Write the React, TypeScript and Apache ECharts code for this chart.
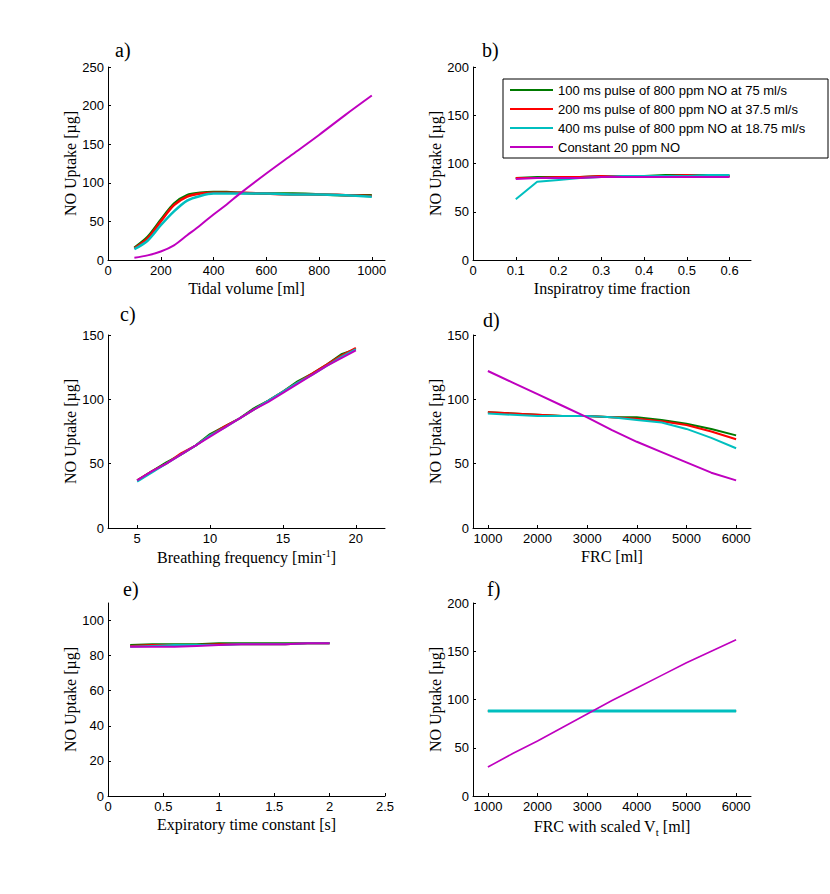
import React, { useEffect, useRef } from "react";
import * as echarts from "echarts";

// ---------- data ----------
const seriesNames = [
  "100 ms pulse of 800 ppm NO at 75 ml/s",
  "200 ms pulse of 800 ppm NO at 37.5 ml/s",
  "400 ms pulse of 800 ppm NO at 18.75 ml/s",
  "Constant 20 ppm NO",
];
const seriesColors = ["#007a00", "#ff0000", "#00bfbf", "#bf00bf"];

// a) tidal volume
const tvX = [100, 150, 200, 250, 300, 350, 400, 450, 500, 600, 700, 800, 900, 1000];
const tvGreen = [16, 30, 52, 73, 84, 87, 88, 88, 87, 86, 86, 85, 84, 84];
const tvRed = [15, 28, 50, 71, 82, 86, 87, 87, 87, 86, 85, 85, 84, 83];
const tvCyan = [14, 25, 45, 63, 77, 83, 86, 86, 86, 86, 85, 85, 84, 82];
const tvMagenta = [3, 6, 11, 19, 32, 45, 59, 72, 86, 112, 137, 162, 188, 213];

// b) inspiratory time fraction
const itfX = [0.1, 0.15, 0.2, 0.25, 0.3, 0.35, 0.4, 0.45, 0.5, 0.55, 0.6];
const itfGreen = [85, 86, 86, 86, 87, 87, 87, 88, 88, 88, 87];
const itfRed = [85, 85, 86, 86, 87, 87, 87, 87, 88, 87, 87];
const itfCyan = [63, 81, 83, 85, 86, 87, 87, 87, 87, 88, 88];
const itfMagenta = [84, 85, 85, 85, 86, 86, 86, 86, 86, 86, 86];

// c) breathing frequency
const bfX = [5, 6, 7, 8, 9, 10, 11, 12, 13, 14, 15, 16, 17, 18, 19, 20];
const bfGreen = [37, 44, 51, 57, 64, 73, 79, 85, 93, 99, 106, 114, 120, 127, 135, 139];
const bfRed = [37, 44, 50, 58, 64, 72, 79, 85, 92, 99, 106, 113, 120, 127, 134, 140];
const bfCyan = [36, 43, 50, 57, 64, 72, 78, 85, 92, 99, 106, 113, 119, 126, 133, 139];
const bfMagenta = [37, 44, 50, 57, 64, 71, 78, 85, 92, 98, 105, 112, 119, 126, 132, 138];

// d) FRC
const frcX = [1000, 1500, 2000, 2500, 3000, 3500, 4000, 4500, 5000, 5500, 6000];
const frcGreen = [90, 89, 88, 87, 87, 86, 86, 84, 81, 77, 72];
const frcRed = [90, 89, 88, 87, 87, 86, 85, 83, 80, 75, 69];
const frcCyan = [89, 88, 87, 87, 87, 86, 84, 82, 77, 70, 62];
const frcMagenta = [122, 113, 104, 95, 86, 76, 67, 59, 51, 43, 37];

// e) expiratory time constant
const etcX = [0.2, 0.4, 0.6, 0.8, 1.0, 1.2, 1.4, 1.6, 1.8, 2.0];
const etcGreen = [86, 86.5, 86.5, 86.5, 87, 87, 87, 87, 87, 87];
const etcRed = [85.5, 86, 86, 86, 86.5, 86.5, 86.5, 86.5, 87, 87];
const etcCyan = [85, 85.5, 86, 86, 86, 86.5, 86.5, 86.5, 87, 87];
const etcMagenta = [85, 85, 85, 85.5, 86, 86.5, 86.5, 86.5, 87, 87];

// f) FRC with scaled Vt
const fvX = [1000, 1500, 2000, 2500, 3000, 3500, 4000, 4500, 5000, 5500, 6000];
const fvGreen = [88, 88, 88, 88, 88, 88, 88, 88, 88, 88, 88];
const fvRed = [88, 88, 88, 88, 88, 88, 88, 88, 88, 88, 88];
const fvCyan = [88, 88, 88, 88, 88, 88, 88, 88, 88, 88, 88];
const fvMagenta = [30, 44, 57, 71, 85, 99, 112, 125, 138, 150, 162];

// tick labels
const tvTicks = [0, 200, 400, 600, 800, 1000];
const itfTicks = [0, 0.1, 0.2, 0.3, 0.4, 0.5, 0.6];
const bfTicks = [5, 10, 15, 20];
const frcTicks = [1000, 2000, 3000, 4000, 5000, 6000];
const etcTicks = [0, 0.5, 1, 1.5, 2, 2.5];
const yTicks250 = [0, 50, 100, 150, 200, 250];
const yTicks200 = [0, 50, 100, 150, 200];
const yTicks150 = [0, 50, 100, 150];
const yTicks110 = [0, 20, 40, 60, 80, 100];

const panelLetters = ["a)", "b)", "c)", "d)", "e)", "f)"];
const xNames = [
  "Tidal volume [ml]",
  "Inspiratroy time fraction",
  "Breathing frequency [min{sup|-1}]",
  "FRC [ml]",
  "Expiratory time constant [s]",
  "FRC with scaled V{sub|t} [ml]",
];
const yName = "NO Uptake [µg]";

const SERIF = "'Liberation Serif', 'Times New Roman', serif";
const SANS = "'Liberation Sans', Arial, sans-serif";

export default function App() {
  const ref = useRef<HTMLDivElement>(null);

  useEffect(() => {
    if (!ref.current) return;
    const chart = echarts.init(ref.current, null, { renderer: "svg" });

    const panels = [
      { x: tvX, ys: [tvGreen, tvRed, tvCyan, tvMagenta], xmin: 0, xmax: 1050, xt: tvTicks, ymax: 250, yt: yTicks250 },
      { x: itfX, ys: [itfGreen, itfRed, itfCyan, itfMagenta], xmin: 0, xmax: 0.65, xt: itfTicks, ymax: 200, yt: yTicks200 },
      { x: bfX, ys: [bfGreen, bfRed, bfCyan, bfMagenta], xmin: 3, xmax: 22, xt: bfTicks, ymax: 150, yt: yTicks150 },
      { x: frcX, ys: [frcGreen, frcRed, frcCyan, frcMagenta], xmin: 700, xmax: 6300, xt: frcTicks, ymax: 150, yt: yTicks150 },
      { x: etcX, ys: [etcGreen, etcRed, etcCyan, etcMagenta], xmin: 0, xmax: 2.5, xt: etcTicks, ymax: 110, yt: yTicks110 },
      { x: fvX, ys: [fvGreen, fvRed, fvCyan, fvMagenta], xmin: 700, xmax: 6300, xt: frcTicks, ymax: 200, yt: yTicks200 },
    ];

    const lefts = [108, 473];
    const widths = [277, 278];
    const tops = [67, 335, 603];
    const H = 193;

    const grids: any[] = [];
    const xAxes: any[] = [];
    const yAxes: any[] = [];
    const series: any[] = [];
    const graphics: any[] = [];

    const letterPos = [
      [115, 50], [482, 50], [120, 314], [483, 320], [123, 589], [487, 589],
    ];

    const rich = {
      sup: { fontFamily: SERIF, fontSize: 10, verticalAlign: "top", padding: [0, 0, 8, 0], color: "#000" },
      sub: { fontFamily: SERIF, fontSize: 11, padding: [10, 0, 0, 0], color: "#000" },
    };
    const fmt = (v: number) => String(v);

    panels.forEach((p, i) => {
      const col = i % 2;
      const row = Math.floor(i / 2);
      grids.push({ left: lefts[col], top: tops[row], width: widths[col], height: H, containLabel: false });
      xAxes.push({
        type: "value",
        gridIndex: i,
        min: p.xmin,
        max: p.xmax,
        name: xNames[i],
        nameLocation: "middle",
        nameGap: 20,
        nameTextStyle: { fontFamily: SERIF, fontSize: 16, color: "#000", rich },
        axisLine: { show: true, onZero: false, lineStyle: { color: "#000", width: 1 } },
        axisTick: { show: true, inside: true, length: 3, lineStyle: { color: "#000" }, customValues: p.xt },
        axisLabel: { color: "#000", fontFamily: SANS, fontSize: 13, margin: 4, customValues: p.xt, formatter: fmt },
        splitLine: { show: false },
      });
      yAxes.push({
        type: "value",
        gridIndex: i,
        min: 0,
        max: p.ymax,
        name: yName,
        nameLocation: "middle",
        nameGap: 29,
        nameRotate: 90,
        nameTextStyle: { fontFamily: SERIF, fontSize: 16, color: "#000" },
        axisLine: { show: true, onZero: false, lineStyle: { color: "#000", width: 1 } },
        axisTick: { show: true, inside: true, length: 3, lineStyle: { color: "#000" }, customValues: p.yt },
        axisLabel: { color: "#000", fontFamily: SANS, fontSize: 13, margin: 4, customValues: p.yt, formatter: fmt },
        splitLine: { show: false },
      });
      p.ys.forEach((ys, k) => {
        series.push({
          type: "line",
          name: seriesNames[k],
          xAxisIndex: i,
          yAxisIndex: i,
          data: p.x.map((xv, j) => [xv, ys[j]]),
          symbol: "none",
          smooth: i === 0 ? 0.3 : false,
          color: seriesColors[k],
          lineStyle: {
            color: seriesColors[k],
            width: i === 5 && k === 2 ? 3 : i === 5 && k === 3 ? 1.6 : i === 0 && k < 3 ? 2.5 : 2,
          },
          z: 2 + k,
        });
      });
      graphics.push({
        type: "text",
        x: letterPos[i][0],
        y: letterPos[i][1],
        style: { text: panelLetters[i], font: `20px ${SERIF}`, fill: "#000", verticalAlign: "middle", align: "left" },
      });
    });

    chart.setOption({
      animation: false,
      backgroundColor: "#fff",
      grid: grids,
      xAxis: xAxes,
      yAxis: yAxes,
      series,
      graphic: graphics,
      legend: {
        data: seriesNames.map((n) => ({ name: n })),
        orient: "vertical",
        left: 503,
        top: 79,
        icon: "rect",
        itemWidth: 43,
        itemHeight: 2,
        itemGap: 5,
        padding: [4, 20, 4, 7],
        borderColor: "#000",
        borderWidth: 1,
        backgroundColor: "#fff",
        selectedMode: false,
        textStyle: { fontFamily: SANS, fontSize: 13, color: "#000", lineHeight: 14, width: 250 },
      },
    });

    return () => chart.dispose();
  }, []);

  return (
    <div
      ref={ref}
      style={{ position: "fixed", left: 0, top: 0, width: 830, height: 894, background: "#fff" }}
    />
  );
}
